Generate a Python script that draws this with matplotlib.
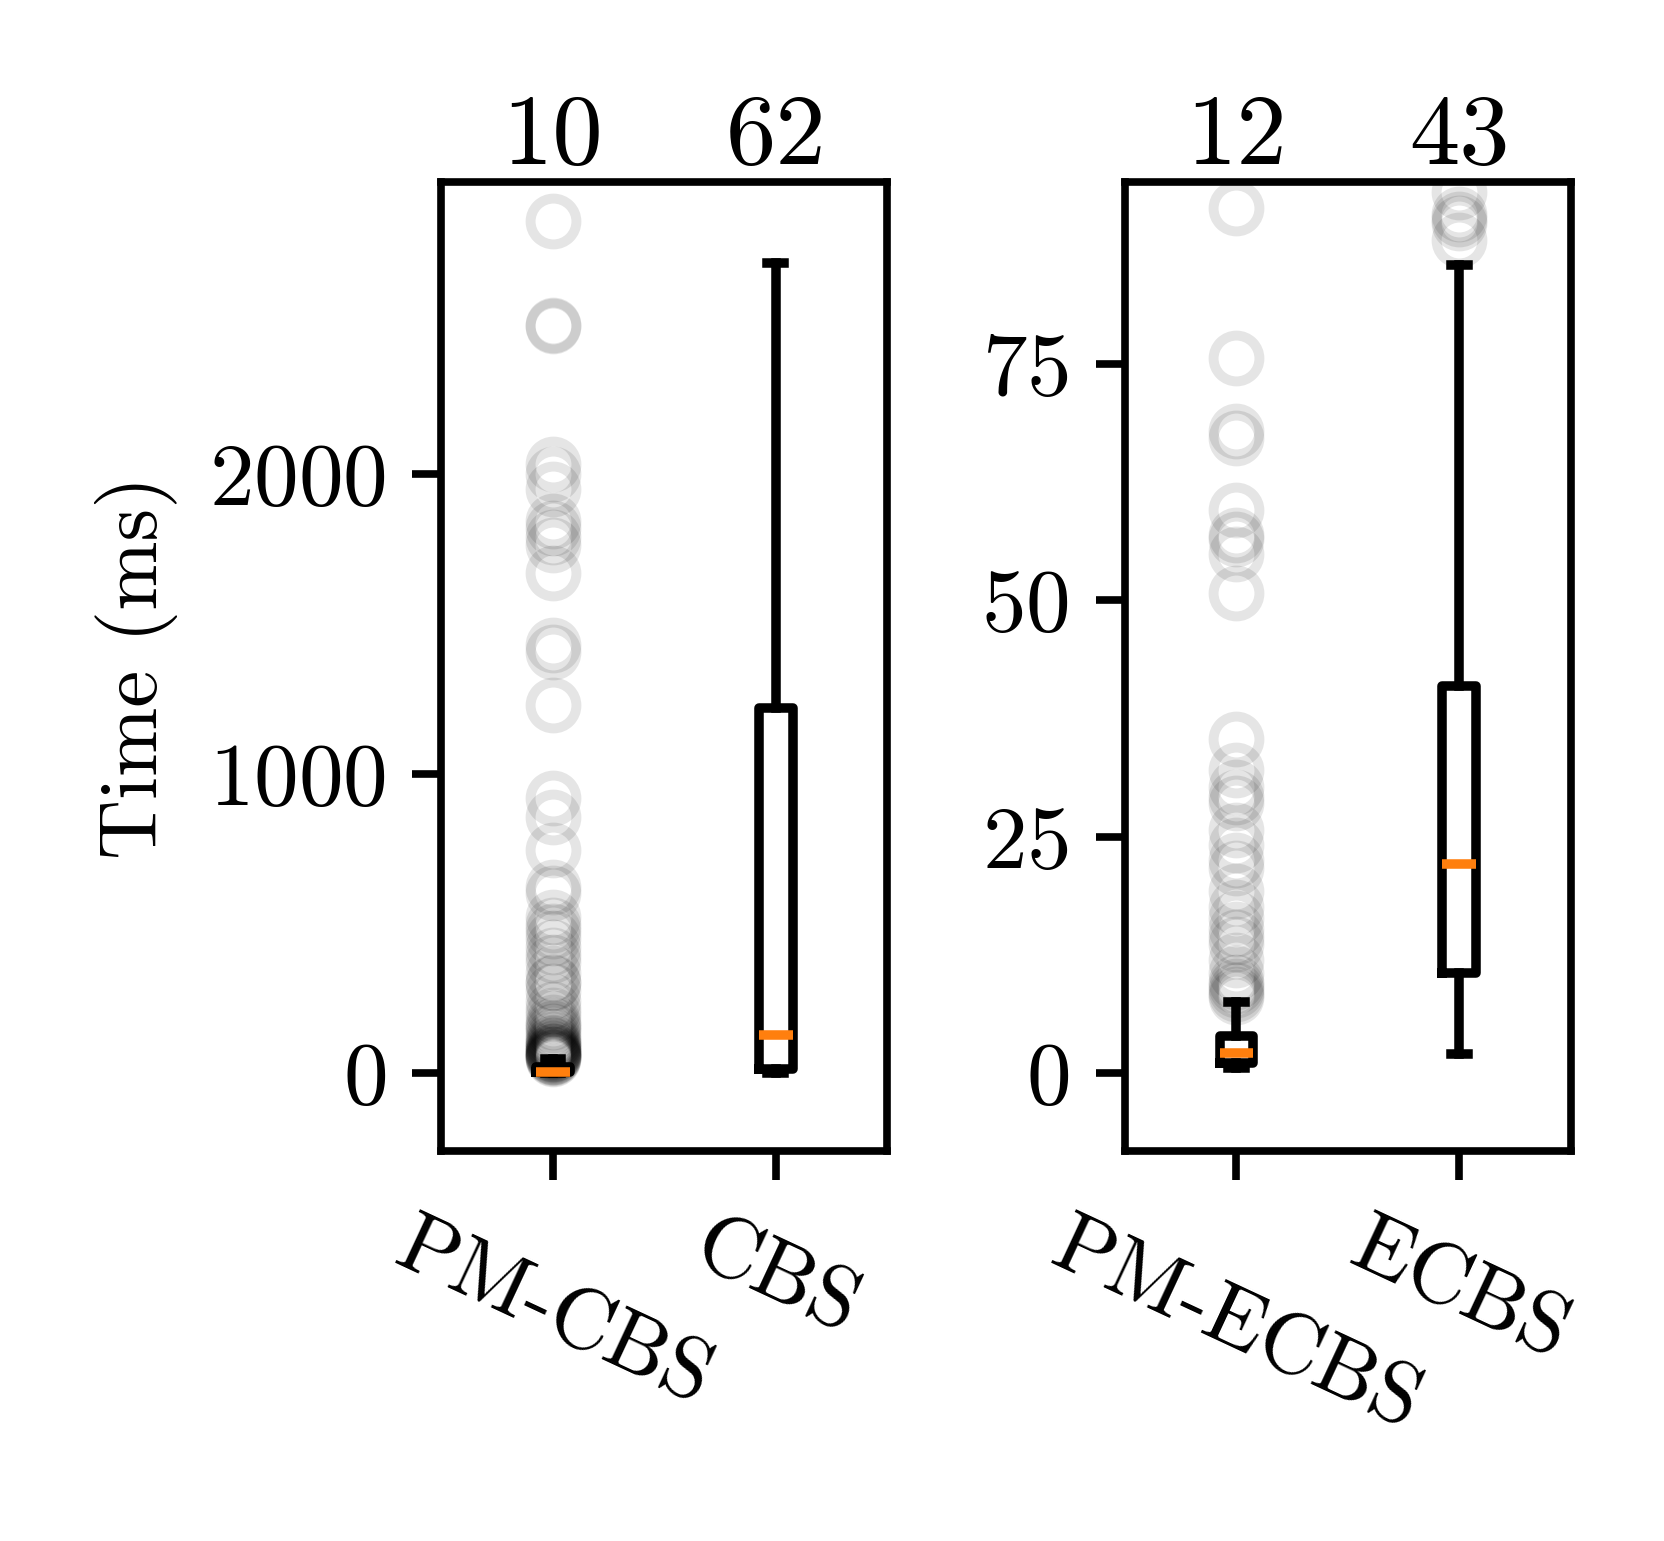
import matplotlib
matplotlib.use("Agg")
import matplotlib.pyplot as plt

plt.rcParams['font.family'] = 'serif'
plt.rcParams['font.serif'] = ['cmr10']
plt.rcParams['mathtext.fontset'] = 'cm'
plt.rcParams['axes.formatter.use_mathtext'] = True
plt.rcParams['axes.linewidth'] = 1.0
plt.rcParams['xtick.major.width'] = 1.0
plt.rcParams['ytick.major.width'] = 1.0

# left panel: PM-CBS vs CBS (ms)
labels_a = ['PM-CBS', 'CBS']
counts_a = [10, 62]
med_a = [5, 128]
q1_a = [2, 12]
q3_a = [20, 1221]
whislo_a = [0.5, 1]
whishi_a = [46, 2706]
fliers_pm_cbs = [2845, 2500, 2495, 2035, 2000, 1950, 1845, 1820, 1790, 1765,
                 1670, 1430, 1405, 1230, 920, 855, 745, 620, 600, 520, 495,
                 475, 450, 420, 395, 370, 335, 305, 300, 275, 240, 215, 195,
                 170, 160, 150, 140, 125, 115, 105, 100, 95, 90, 85, 80, 75,
                 72, 70, 68, 65, 62, 60, 58, 55, 52, 50, 48]
fliers_cbs = []

# right panel: PM-ECBS vs ECBS (ms)
labels_b = ['PM-ECBS', 'ECBS']
counts_b = [12, 43]
med_b = [2.1, 22.1]
q1_b = [1.1, 10.6]
q3_b = [3.9, 40.9]
whislo_b = [0.5, 2.0]
whishi_b = [7.5, 85.5]
fliers_pm_ecbs = [91.5, 75.6, 67.9, 67.2, 59.5, 56.9, 56.5, 54.9, 50.8, 35.3,
                  32, 30.2, 29.2, 28.6, 25.7, 24.1, 22.5, 21.7, 19.3, 17.6,
                  16.4, 15.2, 14.4, 13.6, 12, 10.6, 9.6, 9.2, 8.8, 8.4, 8.0]
fliers_ecbs = [93.2, 90.9, 90.3, 89.9, 88.1]


def make_stats(labels, med, q1, q3, lo, hi, fliers):
    stats = []
    for i in range(len(labels)):
        stats.append(dict(label=labels[i], med=med[i], q1=q1[i], q3=q3[i],
                          whislo=lo[i], whishi=hi[i], fliers=fliers[i]))
    return stats


def draw(ax, stats, counts, yticks, ylim):
    lw = 1.25
    ax.bxp(stats, positions=[1, 2], widths=0.15,
           boxprops=dict(linewidth=lw),
           whiskerprops=dict(linewidth=lw),
           capprops=dict(linewidth=lw),
           medianprops=dict(linewidth=lw, color='#ff7f0e'),
           flierprops=dict(marker='o', markerfacecolor='none',
                           markeredgecolor='k', alpha=0.1, markersize=6,
                           markeredgewidth=1.3))
    ax.set_xlim(0.5, 2.5)
    ax.set_ylim(*ylim)
    ax.set_yticks(yticks)
    ax.tick_params(axis='y', labelsize=11.7, length=3.8)
    ax.tick_params(axis='x', labelsize=11.3, length=3.8)
    plt.setp(ax.get_xticklabels(), rotation=-25)
    for pos, n in zip([1, 2], counts):
        ax.annotate(str(n), xy=(pos, 1), xycoords=('data', 'axes fraction'),
                    xytext=(0, 2.4), textcoords='offset points',
                    ha='center', va='baseline', fontsize=13.2)


fig = plt.figure(figsize=(1664 / 550, 1541 / 550), dpi=550)
ax1 = fig.add_axes([0.2653, 0.2528, 0.2679, 0.6288])
ax2 = fig.add_axes([0.6760, 0.2528, 0.2679, 0.6288])

draw(ax1, make_stats(labels_a, med_a, q1_a, q3_a, whislo_a, whishi_a,
                     [fliers_pm_cbs, fliers_cbs]),
     counts_a, [0, 1000, 2000], (-262, 2975))
draw(ax2, make_stats(labels_b, med_b, q1_b, q3_b, whislo_b, whishi_b,
                     [fliers_pm_ecbs, fliers_ecbs]),
     counts_b, [0, 25, 50, 75], (-8.3, 94.2))

ax1.set_ylabel('Time (ms)', fontsize=10.9, labelpad=4)

fig.savefig('out.png', dpi=550)
